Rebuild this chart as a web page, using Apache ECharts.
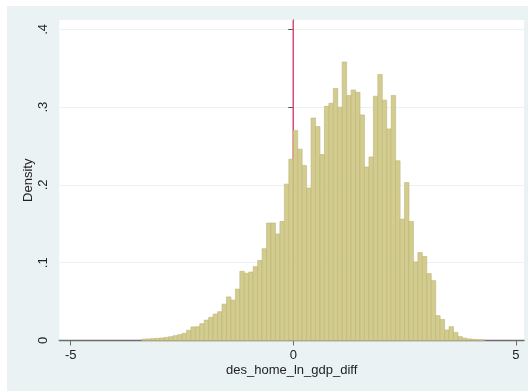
<!DOCTYPE html>
<html>
<head>
<meta charset="utf-8">
<script src="https://cdn.jsdelivr.net/npm/echarts@6/dist/echarts.min.js"></script>
<style>
html,body{margin:0;padding:0;background:#ffffff;}
#c{width:528px;height:391px;}
</style>
</head>
<body>
<div id="c"></div>
<script>
// Histogram bins (left edge of each bin, width 0.1) and densities
const binLeft = [-3.4,-3.3,-3.2,-3.1,-3.0,-2.9,-2.8,-2.7,-2.6,-2.5,-2.4,-2.3,-2.2,-2.1,-2.0,-1.9,-1.8,-1.7,-1.6,-1.5,
  -1.4,-1.3,-1.2,-1.1,-1.0,-0.9,-0.8,-0.7,-0.6,-0.5,-0.4,-0.3,-0.2,-0.1,
  0.0,0.1,0.2,0.3,0.4,0.5,0.6,0.7,0.8,0.9,1.0,1.1,1.2,1.3,1.4,1.5,1.6,1.7,1.8,1.9,
  2.0,2.1,2.2,2.3,2.4,2.5,2.6,2.7,2.8,2.9,3.0,3.1,3.2,3.3,3.4,3.5,3.6,3.7,3.8,3.9,4.0,4.1,4.2];
const density = [0.0018,0.002,0.0024,0.0028,0.0032,0.004,0.0049,0.0062,0.0075,0.0092,0.0131,0.0174,0.0177,0.0216,0.0263,0.0298,0.034,0.037,0.0467,0.056,
  0.052,0.066,0.089,0.0864,0.088,0.095,0.103,0.118,0.151,0.151,0.137,0.153,0.201,0.233,
  0.270,0.246,0.225,0.196,0.286,0.275,0.239,0.301,0.305,0.324,0.300,0.358,0.315,0.322,0.319,0.290,0.223,0.236,0.314,0.342,
  0.309,0.272,0.315,0.231,0.156,0.203,0.153,0.101,0.113,0.108,0.086,0.077,0.032,0.027,0.0135,0.0178,0.0105,0.005,0.003,0.002,0.0015,0.001,0.0008];
const binWidth = 0.1;
const xTicks = [-5, 0, 5];
const yTicks = [0, 0.1, 0.2, 0.3, 0.4];
const yTickLabels = ['0', '.1', '.2', '.3', '.4'];
const refLineX = 0;

const chart = echarts.init(document.getElementById('c'), null, {renderer: 'canvas'});
const barData = binLeft.map((x, i) => [x, x + binWidth, density[i]]);
const font = '"Liberation Sans", Arial, sans-serif';

chart.setOption({
  animation: false,
  backgroundColor: '#ffffff',
  graphic: [{
    type: 'rect', left: 7, top: 6, z: -10,
    shape: {width: 521, height: 385},
    style: {fill: '#eaf2f3'}
  }],
  grid: {
    left: 59.3, right: 4, top: 20, bottom: 50.5,
    show: true, backgroundColor: '#ffffff', borderWidth: 0
  },
  xAxis: {
    type: 'value', min: -5.256, max: 5.184,
    name: 'des_home_ln_gdp_diff', nameLocation: 'middle', nameGap: 23, nameMoveOverlap: false,
    nameTextStyle: {fontFamily: font, fontSize: 13, color: '#222'},
    axisLine: {show: true, onZero: false, lineStyle: {color: '#6b6b6b', width: 1.4}},
    axisTick: {show: true, length: 5, customValues: xTicks, lineStyle: {color: '#6b6b6b'}},
    axisLabel: {customValues: xTicks, fontFamily: font, fontSize: 13, color: '#222', margin: 8},
    splitLine: {show: false}
  },
  yAxis: {
    type: 'value', min: 0, max: 0.412,
    name: 'Density', nameLocation: 'middle', nameGap: 24, nameRotate: 90, nameMoveOverlap: false,
    nameTextStyle: {fontFamily: font, fontSize: 13, color: '#222'},
    axisLine: {show: true, lineStyle: {color: '#444', width: 1}},
    axisTick: {show: true, length: 5, customValues: yTicks, lineStyle: {color: '#555'}},
    axisLabel: {
      customValues: yTicks, rotate: 90, fontFamily: font, fontSize: 13, color: '#222', margin: 9,
      formatter: v => { const i = yTicks.findIndex(t => Math.abs(t - v) < 1e-9); return i >= 0 ? yTickLabels[i] : ''; }
    },
    splitLine: {show: true, lineStyle: {color: '#eaf2f3', width: 1.2}}
  },
  series: [
    {
      type: 'line', z: 1, symbol: 'none', silent: true,
      data: [[refLineX, 0], [refLineX, 0.412]],
      lineStyle: {color: '#dc4a74', width: 1.5}
    },
    {
      type: 'custom', z: 2,
      data: barData,
      renderItem: function (params, api) {
        const p0 = api.coord([api.value(0), api.value(2)]);
        const p1 = api.coord([api.value(1), 0]);
        return {
          type: 'rect',
          shape: {x: p0[0], y: p0[1], width: p1[0] - p0[0], height: p1[1] - p0[1]},
          style: {fill: '#d3cc8f', stroke: '#bdb475', lineWidth: 0.6}
        };
      }
    }
  ]
});
</script>
</body>
</html>
